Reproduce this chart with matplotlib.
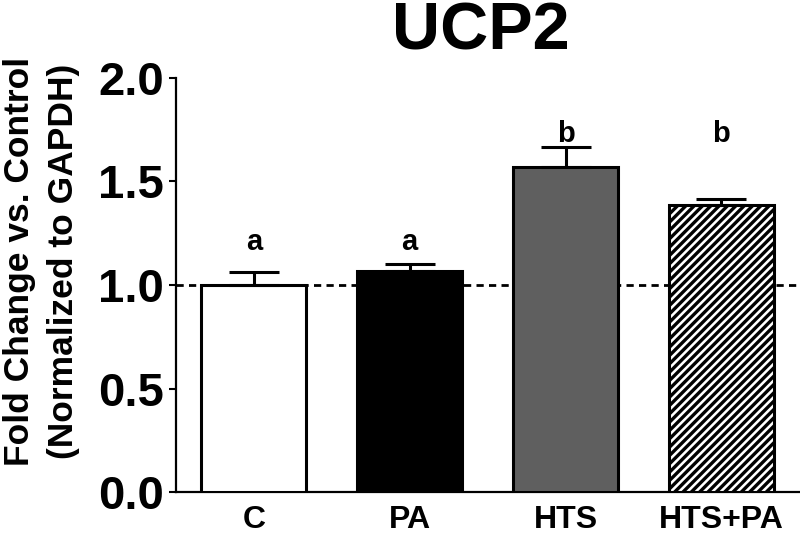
import matplotlib
matplotlib.use("Agg")
import matplotlib.pyplot as plt

categories = ["C", "PA", "HTS", "HTS+PA"]
values = [1.00, 1.07, 1.57, 1.385]
errors = [0.063, 0.033, 0.095, 0.03]
letters = ["a", "a", "b", "b"]
letter_y = [1.17, 1.17, 1.69, 1.69]
yticks = [0.0, 0.5, 1.0, 1.5, 2.0]
ytick_labels = ["0.0", "0.5", "1.0", "1.5", "2.0"]

FONT = "Liberation Sans"
plt.rcParams["font.family"] = [FONT, "DejaVu Sans"]
plt.rcParams["font.weight"] = "bold"
plt.rcParams["hatch.linewidth"] = 2.4

fig = plt.figure(figsize=(8, 5.33), dpi=100)
ax = fig.add_axes([0.22, 0.0769, 0.779, 0.7768])

x = list(range(len(categories)))
faces = ["white", "black", "#5f5f5f", "white"]
hatches = [None, None, None, "////"]
bars = ax.bar(x, values, width=0.675, color=faces, edgecolor="black",
              linewidth=2.2, zorder=3)
for b, h in zip(bars, hatches):
    if h:
        b.set_hatch(h)

ax.errorbar(x, values, yerr=[[0] * len(errors), errors], fmt="none",
            ecolor="black", elinewidth=2.2, capsize=18, capthick=2.2, zorder=4)

ax.axhline(1.0, color="black", lw=2, ls=(0, (2.6, 1.9)), zorder=1)

for xi, t, ty in zip(x, letters, letter_y):
    ax.text(xi, ty, t, ha="center", va="baseline", fontsize=21,
            fontweight="bold")

ax.set_xlim(-0.5, 3.5)
ax.set_ylim(0, 2.0)
ax.set_yticks(yticks)
ax.set_yticklabels(ytick_labels, fontsize=34, fontweight="bold")
ax.set_xticks(x)
ax.set_xticklabels(categories, fontsize=23, fontweight="bold")
ax.tick_params(axis="x", length=0, pad=9)
ax.tick_params(axis="y", length=5, width=1.5, pad=3.5)

for s in ["top", "right"]:
    ax.spines[s].set_visible(False)
for s in ["left", "bottom"]:
    ax.spines[s].set_linewidth(1.6)

fig.text(0.024, 0.51, "Fold Change vs. Control", rotation=90, ha="center",
         va="center", fontsize=25.5, fontweight="bold")
fig.text(0.079, 0.51, "(Normalized to GAPDH)", rotation=90, ha="center",
         va="center", fontsize=25.5, fontweight="bold")

fig.text(0.601, 1 - 50 / 533, "UCP2", ha="center", va="baseline",
         fontsize=48, fontweight="bold")

fig.savefig("out.png", dpi=100)
